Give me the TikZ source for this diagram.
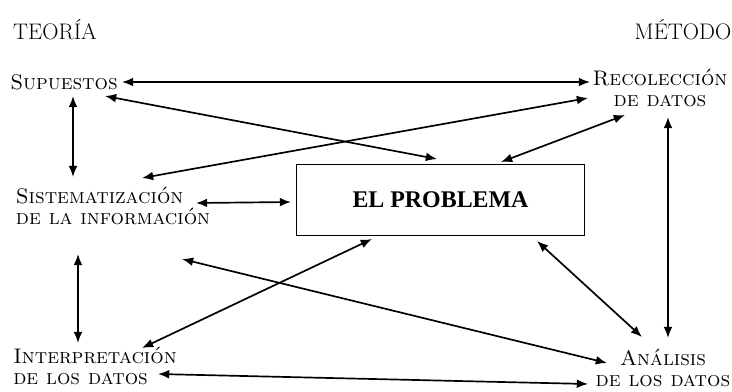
\documentclass[tikz,border=0pt]{standalone}
\usepackage{fontspec}
\newfontfamily\problemfont{Liberation Serif}
\usetikzlibrary{arrows.meta}

\tikzset{
  etiqueta/.style={font=\fontsize{15}{14.5}\selectfont\scshape, inner sep=1pt},
  titulo/.style={font=\fontsize{16}{16}\selectfont, inner sep=1pt},
  caja/.style={draw, line width=0.7pt, minimum width=7.175cm, minimum height=1.775cm,
    font=\problemfont\bfseries\fontsize{17}{18}\selectfont},
  flecha/.style={{Latex[length=2.8mm,width=2.2mm]}-{Latex[length=2.8mm,width=2.2mm]}, line width=1.2pt}
}

\begin{document}
\begin{tikzpicture}[x=0.025cm, y=-0.025cm]
        \useasboundingbox (0, 0) rectangle (732, 391);

        \node (teoria) at (55, 30) [titulo] {TEORÍA};
        \node (metodo) at (683, 30) [titulo] {MÉTODO};

        \node (sup) at (64, 82) [etiqueta] {Supuestos};
        \node (rec) at (660, 88) [etiqueta, align=center] {Recolección\\de datos};
        \node (sis) at (113, 206) [etiqueta, align=left] {Sistematización\\de la información};
        \node (prob) at (440.5, 199.5) [caja] {EL PROBLEMA};
        \node (int) at (95, 366) [etiqueta, align=left] {Interpretación\\de los datos};
        \node (ana) at (663, 368) [etiqueta, align=center] {Análisis\\de los datos};

        % fila de arriba
        \draw[flecha] ([shift={(58, 0)}]sup.center) -- ([shift={(-70, -6)}]rec.center);
        \draw[flecha] ([shift={(41, 14)}]sup.center) -- ([shift={(-3.5, -40.5)}]prob.center);
        \draw[flecha] ([shift={(9, 14)}]sup.center) -- ([shift={(-40, -29)}]sis.center);
        \draw[flecha] ([shift={(29, -28)}]sis.center) -- ([shift={(-72, 10)}]rec.center);
        \draw[flecha] ([shift={(60.5, -37.5)}]prob.center) -- ([shift={(-35, 27)}]rec.center);

        % centro
        \draw[flecha] ([shift={(83, -3)}]sis.center) -- ([shift={(-149.5, 2.5)}]prob.center);
        \draw[flecha] ([shift={(8, 29)}]rec.center) -- ([shift={(5, -30)}]ana.center);
        \draw[flecha] ([shift={(-35, 48)}]sis.center) -- ([shift={(-17, -23)}]int.center);

        % fila de abajo
        \draw[flecha] ([shift={(69, 53)}]sis.center) -- ([shift={(-56, -5)}]ana.center);
        \draw[flecha] ([shift={(-68.5, 39.5)}]prob.center) -- ([shift={(47, -18)}]int.center);
        \draw[flecha] ([shift={(96.5, 41.5)}]prob.center) -- ([shift={(-21, -31)}]ana.center);
        \draw[flecha] ([shift={(63, 8)}]int.center) -- ([shift={(-75, 16)}]ana.center);
\end{tikzpicture}
\end{document}
